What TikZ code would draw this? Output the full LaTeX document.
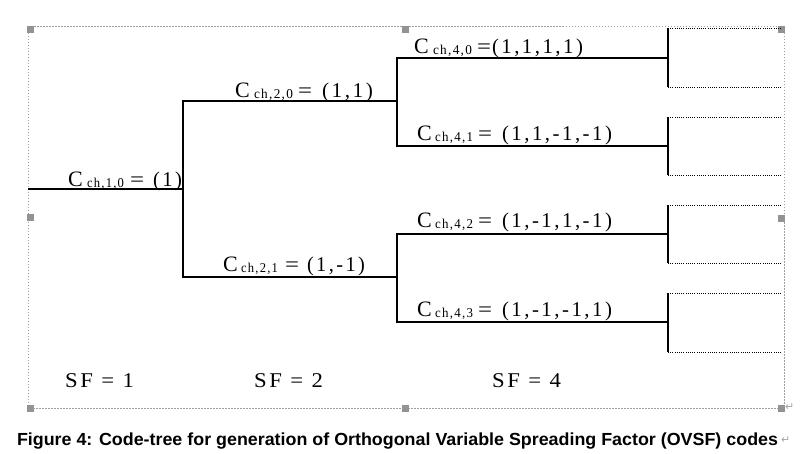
\documentclass[tikz,border=0pt]{standalone}
\usepackage{fontspec}
\usepackage{graphicx}
\setmainfont{Liberation Serif}
\newfontfamily\capfont{Liberation Sans}[BoldFont={Liberation Sans Bold}]
\newfontfamily\symfont{DejaVu Sans}
\newcommand\fitw[2]{\resizebox{#1}{\height}{#2}}
% #1 subscript, #2 value, #3 C->sub, #4 sub->eq, #5 eq->value, #6 value width, #7 subscript width
\newcommand\codelbl[7]{%
  \makebox[#3][l]{\fontsize{22}{22}\selectfont C}%
  \makebox[#4][l]{\raisebox{-1.5pt}{\fitw{#7}{\fontsize{13.5}{13.5}\selectfont\addfontfeature{LetterSpace=10}#1}}}%
  \makebox[#5][l]{\fitw{14pt}{\fontsize{21}{21}\selectfont =}}%
  \fitw{#6}{\fontsize{21}{21}\selectfont\addfontfeature{LetterSpace=12}#2}}
\newcommand\sflbl[1]{\fitw{69pt}{\fontsize{21}{21}\selectfont\addfontfeature{LetterSpace=12}SF = #1}}
\begin{document}
\begin{tikzpicture}[x=1pt,y=-1pt,
  branch/.style={line width=2pt, line join=miter},
  leafbar/.style={line width=2.5pt},
  stub/.style={line width=1pt, dash pattern=on 1pt off 1.2pt},
  frame/.style={draw=gray!75, line width=0.8pt, dash pattern=on 1.5pt off 1.5pt},
  handle/.style={fill=gray!85, draw=none},
  lbl/.style={anchor=base west, inner sep=0pt, outer sep=0pt},
  retmark/.style={inner sep=0pt, text=gray!70, font=\symfont\fontsize{11}{11}\selectfont}
]
\useasboundingbox (0,0) rectangle (801,453);
% frame with handles
\draw[frame] (28,26.5) rectangle (784,408.5);
\foreach \hx/\hy in {27/26, 402/26, 778/26, 27/214, 778/215, 27/405, 402/405, 778/405}
  \fill[handle] (\hx,\hy) rectangle ++(7,7);
% junction coordinates
\coordinate (start) at (28,189);
\coordinate (n1) at (183,189);
\coordinate (n1t) at (183,101);
\coordinate (n1b) at (183,277);
\coordinate (n20) at (397,101);
\coordinate (n21) at (397,277);
\coordinate (n20t) at (397,58);
\coordinate (n20b) at (397,146);
\coordinate (n21t) at (397,234);
\coordinate (n21b) at (397,322);
\coordinate (n40) at (668,58);
\coordinate (n41) at (668,146);
\coordinate (n42) at (668,234);
\coordinate (n43) at (668,322);
\foreach \n/\t/\b in {0/28/87, 1/117/175, 2/205/263, 3/293/352}{
  \coordinate (l\n t) at (668,\t);
  \coordinate (l\n b) at (668,\b);
  \coordinate (s\n t) at (782,\t);
  \coordinate (s\n b) at (782,\b);
}
% tree
\draw[branch] (start) -- (n1);
\draw[branch] (n20) -- (n1t) -- (n1b) -- (n21);
\draw[branch] (n40) -- (n20t) -- (n20b) -- (n41);
\draw[branch] (n42) -- (n21t) -- (n21b) -- (n43);
\foreach \n in {0,1,2,3}{
  \draw[leafbar] (l\n t) -- (l\n b);
  \draw[stub] (l\n t) -- (s\n t);
  \draw[stub] (l\n b) -- (s\n b);
}
% labels
\node[lbl] (c10) at (68,186) {\codelbl{ch,1,0}{(1)}{19pt}{43pt}{23pt}{29pt}{37pt}};
\node[lbl] (c20) at (235,97) {\codelbl{ch,2,0}{(1,1)}{19pt}{44pt}{24pt}{51pt}{39pt}};
\node[lbl] (c21) at (223,271) {\codelbl{ch,2,1}{(1,-1)}{18pt}{44pt}{22pt}{58pt}{37pt}};
\node[lbl] (c40) at (414,53) {\codelbl{ch,4,0}{(1,1,1,1)}{19pt}{44pt}{15pt}{91pt}{39pt}};
\node[lbl] (c41) at (417,140) {\codelbl{ch,4,1}{(1,1,-1,-1)}{18pt}{43pt}{24pt}{110pt}{38pt}};
\node[lbl] (c42) at (417,227) {\codelbl{ch,4,2}{(1,-1,1,-1)}{18pt}{43pt}{24pt}{110pt}{38pt}};
\node[lbl] (c43) at (417,316) {\codelbl{ch,4,3}{(1,-1,-1,1)}{18pt}{43pt}{24pt}{110pt}{38pt}};
\node[lbl] (sf1) at (65,387) {\sflbl{1}};
\node[lbl] (sf2) at (254,387) {\sflbl{2}};
\node[lbl] (sf4) at (492,387) {\sflbl{4}};
% caption
\node[lbl] (cap) at (17,445) {\resizebox{761pt}{\height}{\capfont\bfseries\fontsize{17.5}{17.5}\selectfont Figure 4: Code-tree for generation of Orthogonal Variable Spreading Factor (OVSF) codes}};
\node[retmark, anchor=base west] (m1) at (785,410) {↵};
\node[retmark, anchor=base west] (m2) at (781,443) {↵};
\end{tikzpicture}
\end{document}
